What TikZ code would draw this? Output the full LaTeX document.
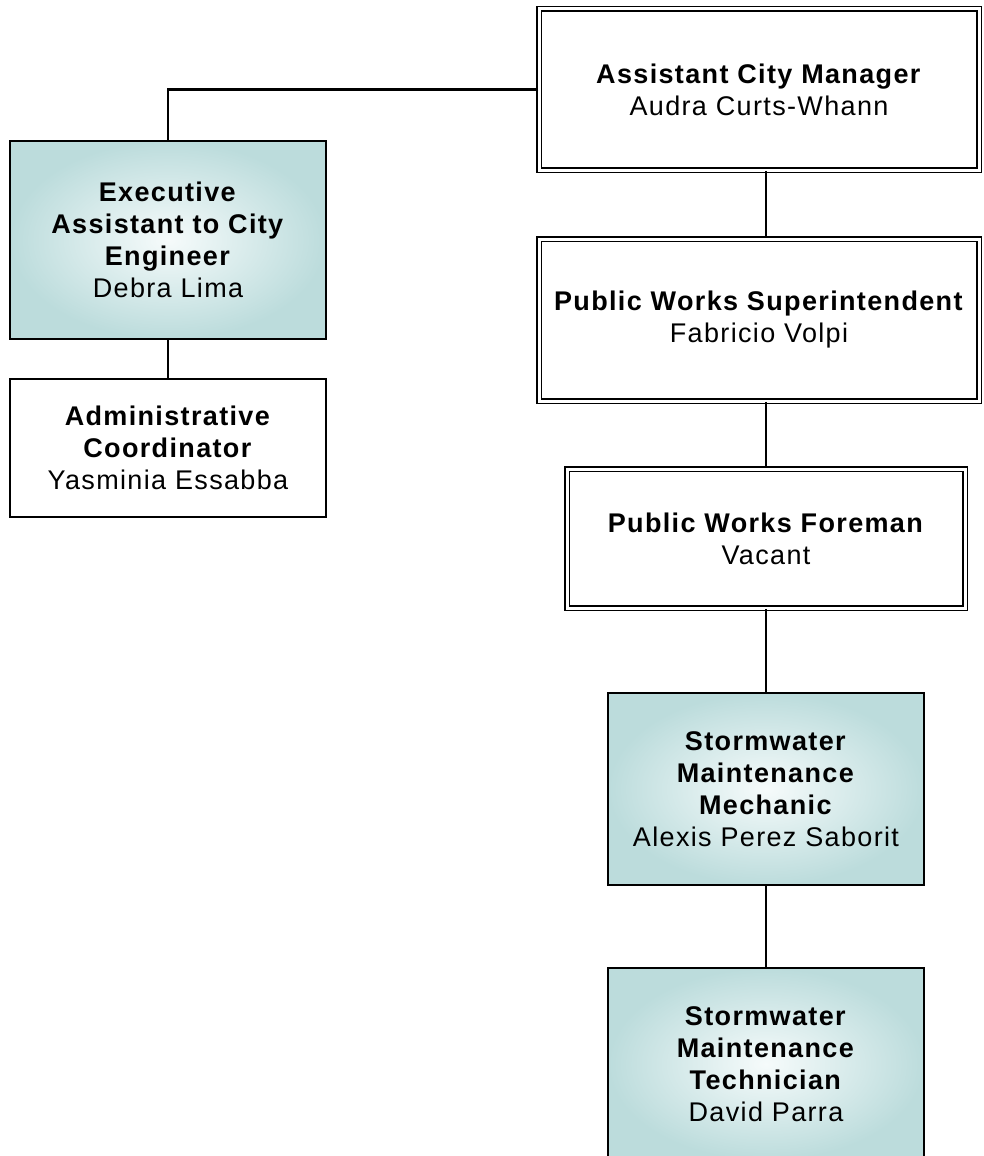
\documentclass[tikz,border=0pt]{standalone}
\usepackage{fontspec}
\setmainfont{Liberation Sans}[LetterSpace=5]
\usetikzlibrary{positioning}

\definecolor{tealpale}{RGB}{246,251,251}
\definecolor{tealedge}{RGB}{188,220,220}

\tikzset{
  post/.style={draw=black, line width=2pt, align=center, inner sep=0pt,
    font=\fontsize{27}{32}\selectfont},
  head/.style={post, double, double distance=3pt, line width=1.5pt, fill=white},
  plain/.style={post, fill=white},
  staff/.style={post, shading=radial, inner color=tealpale, outer color=tealedge},
  link/.style={draw=black, line width=2.5pt}
}

\begin{document}
\begin{tikzpicture}[x=1pt,y=-1pt]
  \clip (0,0) rectangle (983,1156);

  % right column
  \node[head, minimum width=440pt, minimum height=161pt] (acm) at (759,89.5)
    {\textbf{Assistant City Manager}\\Audra Curts-Whann};
  \node[head, minimum width=440pt, minimum height=162pt] (pws) at (759,320)
    {\textbf{Public Works Superintendent}\\Fabricio Volpi};
  \node[head, minimum width=398pt, minimum height=139pt] (fore) at (766,538.5)
    {\textbf{Public Works Foreman}\\Vacant};
  \node[staff, minimum width=316pt, minimum height=192pt] (mech) at (766,789)
    {\textbf{Stormwater}\\\textbf{Maintenance}\\\textbf{Mechanic}\\Alexis Perez Saborit};
  \node[staff, minimum width=316pt, minimum height=192pt] (tech) at (766,1064)
    {\textbf{Stormwater}\\\textbf{Maintenance}\\\textbf{Technician}\\David Parra};

  % left column
  \node[staff, minimum width=316pt, minimum height=198pt] (exec) at (168,240)
    {\textbf{Executive}\\\textbf{Assistant to City}\\\textbf{Engineer}\\Debra Lima};
  \node[plain, minimum width=316pt, minimum height=138pt] (admin) at (168,448)
    {\textbf{Administrative}\\\textbf{Coordinator}\\Yasminia Essabba};

  % reporting lines
  \draw[link] (acm.west) -| (exec.north);
  \draw[link] (exec) -- (admin);
  \draw[link] (fore.north |- acm.south) -- (fore.north |- pws.north);
  \draw[link, line width=2pt] (fore.north |- pws.south) -- (fore.north);
  \draw[link, line width=2pt] (fore) -- (mech);
  \draw[link, line width=2pt] (mech) -- (tech);
\end{tikzpicture}
\end{document}
